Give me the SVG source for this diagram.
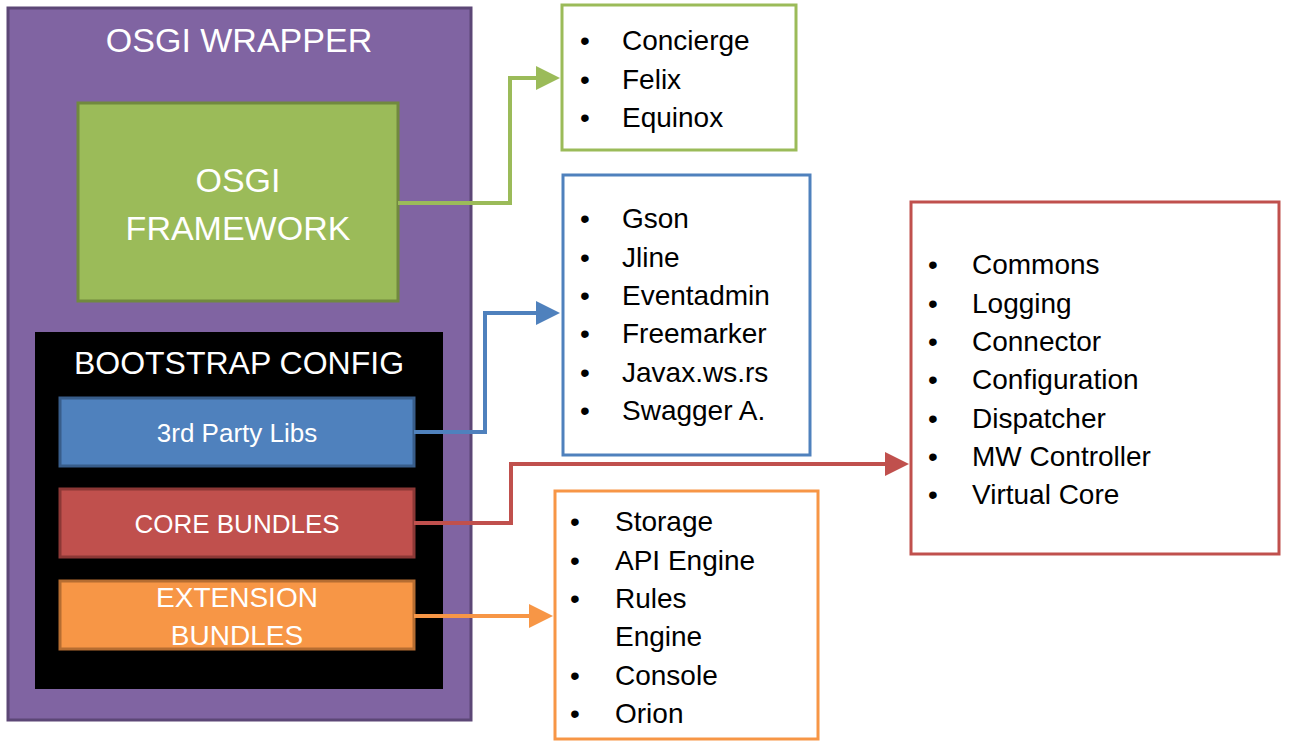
<svg xmlns="http://www.w3.org/2000/svg" width="1290" height="747" viewBox="0 0 1290 747">
<defs>
<style>
text{font-family:"Liberation Sans",Arial,sans-serif}
.w{fill:#fff;text-anchor:middle}
.l{fill:#000;font-size:28px}
.c{fill:none;stroke-width:4}
</style>
<marker id="ag" markerWidth="6" markerHeight="6" refX="3" refY="3" orient="auto" markerUnits="strokeWidth"><path d="M0,0L6,3L0,6z" fill="#9BBB59"/></marker>
<marker id="ab" markerWidth="6" markerHeight="6" refX="3" refY="3" orient="auto" markerUnits="strokeWidth"><path d="M0,0L6,3L0,6z" fill="#4F81BD"/></marker>
<marker id="ar" markerWidth="6" markerHeight="6" refX="3" refY="3" orient="auto" markerUnits="strokeWidth"><path d="M0,0L6,3L0,6z" fill="#C0504D"/></marker>
<marker id="ao" markerWidth="6" markerHeight="6" refX="3" refY="3" orient="auto" markerUnits="strokeWidth"><path d="M0,0L6,3L0,6z" fill="#F79646"/></marker>
</defs>
<rect width="1290" height="747" fill="#fff"/>
<g id="wrapper"><rect x="8" y="8" width="463" height="712" fill="#8064A2" stroke="#5C4776" stroke-width="3"/>
<text class="w" x="239" y="52" font-size="34">OSGI WRAPPER</text></g>
<g id="framework"><rect x="78" y="103" width="320" height="198" fill="#9BBB59" stroke="#71893F" stroke-width="3"/>
<text class="w" x="238" y="192" font-size="34">OSGI</text><text class="w" x="238" y="240" font-size="34">FRAMEWORK</text></g>
<g id="bootstrap"><rect x="35" y="332" width="408" height="357" fill="#000"/>
<text class="w" x="239" y="374" font-size="32">BOOTSTRAP CONFIG</text></g>
<g id="libs"><rect x="60" y="398" width="354" height="68" fill="#4F81BD" stroke="#385D8A" stroke-width="3"/><text class="w" x="237" y="442" font-size="26">3rd Party Libs</text></g>
<g id="core"><rect x="60" y="489" width="354" height="68" fill="#C0504D" stroke="#8C3836" stroke-width="3"/><text class="w" x="237" y="533" font-size="26">CORE BUNDLES</text></g>
<g id="ext"><rect x="60" y="581" width="354" height="68" fill="#F79646" stroke="#B66D31" stroke-width="3"/><text class="w" x="237" y="607" font-size="28">EXTENSION</text><text class="w" x="237" y="645" font-size="28">BUNDLES</text></g>
<g id="list-green"><rect x="562" y="5" width="234" height="145" fill="#fff" stroke="#9BBB59" stroke-width="3"/>
<text class="l" x="580" y="50">•</text><text class="l" x="622" y="50">Concierge</text>
<text class="l" x="580" y="89">•</text><text class="l" x="622" y="89">Felix</text>
<text class="l" x="580" y="127">•</text><text class="l" x="622" y="127">Equinox</text></g>
<g id="list-blue"><rect x="563" y="175" width="247" height="280" fill="#fff" stroke="#4F81BD" stroke-width="3"/>
<text class="l" x="580" y="228">•</text><text class="l" x="622" y="228">Gson</text>
<text class="l" x="580" y="267">•</text><text class="l" x="622" y="267">Jline</text>
<text class="l" x="580" y="305">•</text><text class="l" x="622" y="305">Eventadmin</text>
<text class="l" x="580" y="343">•</text><text class="l" x="622" y="343">Freemarker</text>
<text class="l" x="580" y="382">•</text><text class="l" x="622" y="382">Javax.ws.rs</text>
<text class="l" x="580" y="420">•</text><text class="l" x="622" y="420">Swagger A.</text></g>
<g id="list-red"><rect x="911" y="202" width="368" height="352" fill="#fff" stroke="#C0504D" stroke-width="3"/>
<text class="l" x="928" y="274">•</text><text class="l" x="972" y="274">Commons</text>
<text class="l" x="928" y="313">•</text><text class="l" x="972" y="313">Logging</text>
<text class="l" x="928" y="351">•</text><text class="l" x="972" y="351">Connector</text>
<text class="l" x="928" y="389">•</text><text class="l" x="972" y="389">Configuration</text>
<text class="l" x="928" y="428">•</text><text class="l" x="972" y="428">Dispatcher</text>
<text class="l" x="928" y="466">•</text><text class="l" x="972" y="466">MW Controller</text>
<text class="l" x="928" y="504">•</text><text class="l" x="972" y="504">Virtual Core</text></g>
<g id="list-orange"><rect x="555" y="491" width="263" height="248" fill="#fff" stroke="#F79646" stroke-width="3"/>
<text class="l" x="570" y="531">•</text><text class="l" x="615" y="531">Storage</text>
<text class="l" x="570" y="570">•</text><text class="l" x="615" y="570">API Engine</text>
<text class="l" x="570" y="608">•</text><text class="l" x="615" y="608">Rules</text>
<text class="l" x="615" y="646">Engine</text>
<text class="l" x="570" y="685">•</text><text class="l" x="615" y="685">Console</text>
<text class="l" x="570" y="723">•</text><text class="l" x="615" y="723">Orion</text></g>
<g id="connectors">
<path class="c" stroke="#9BBB59" d="M398,203H510V78H548" marker-end="url(#ag)"/>
<path class="c" stroke="#4F81BD" d="M414,432H485V313H548" marker-end="url(#ab)"/>
<path class="c" stroke="#C0504D" d="M414,523H511V464H897" marker-end="url(#ar)"/>
<path class="c" stroke="#F79646" d="M414,616H541" marker-end="url(#ao)"/>
</g>
</svg>
